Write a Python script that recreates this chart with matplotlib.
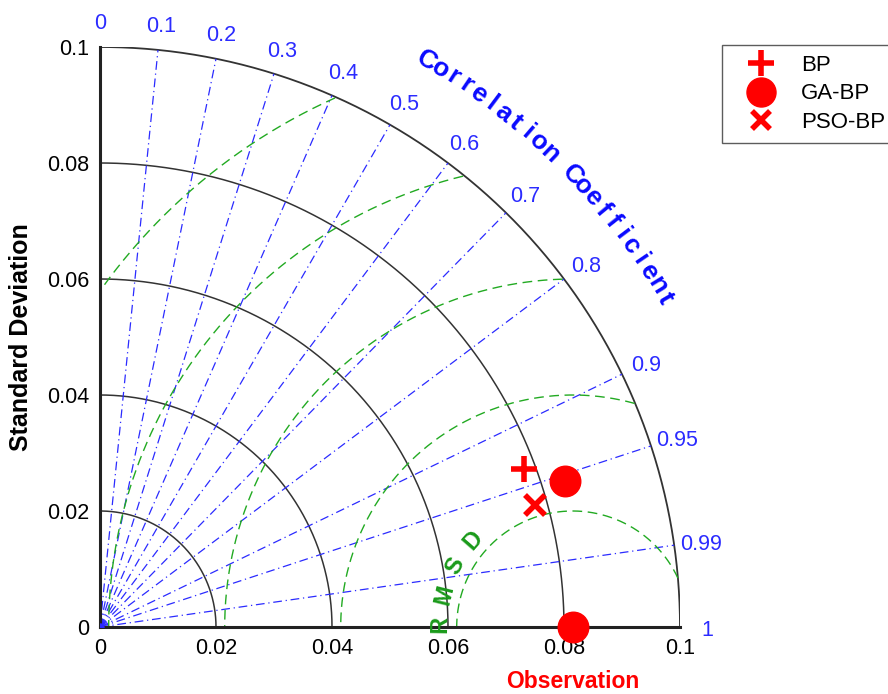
import numpy as np
import matplotlib
matplotlib.use('Agg')
import matplotlib.pyplot as plt

plt.rcParams['font.family'] = ['Liberation Sans', 'DejaVu Sans']

# data
names = ['BP', 'GA-BP', 'PSO-BP']
stds = [0.0780, 0.0841, 0.0779]
corrs = [0.937, 0.954, 0.963]
markers = ['+', 'o', 'x']
obs_std = 0.0815

std_ticks = [0, 0.02, 0.04, 0.06, 0.08, 0.1]
std_arcs = [0.02, 0.04, 0.06, 0.08, 0.1]
corr_ticks = [0.1, 0.2, 0.3, 0.4, 0.5, 0.6, 0.7, 0.8, 0.9, 0.95, 0.99]
corr_labels = ['0', '0.1', '0.2', '0.3', '0.4', '0.5', '0.6', '0.7', '0.8', '0.9', '0.95', '0.99', '1']
rmsd_levels = [0.02, 0.04, 0.06, 0.08, 0.1]

rmax = 0.1
blue = '#2b2bff'

fig = plt.figure(figsize=(8.88, 6.94), dpi=100)
ax = fig.add_axes([100 / 888, 67 / 694, 580 / 888, 580 / 694])
ax.set_xlim(0, rmax)
ax.set_ylim(0, rmax)
for s in ['top', 'right']:
    ax.spines[s].set_visible(False)
for s in ['left', 'bottom']:
    ax.spines[s].set_linewidth(2.2)
    ax.spines[s].set_color('#222222')
ax.set_xticks(std_ticks)
ax.set_yticks(std_ticks)
ax.set_xticklabels(['0', '0.02', '0.04', '0.06', '0.08', '0.1'])
ax.set_yticklabels(['0', '0.02', '0.04', '0.06', '0.08', '0.1'])
ax.tick_params(length=0, labelsize=15.5, pad=8)

# standard deviation arcs
th = np.linspace(0, np.pi / 2, 300)
for r in std_arcs:
    ax.plot(r * np.cos(th), r * np.sin(th), color='#333333', lw=1.1 if r < rmax else 1.3)

# correlation rays
for c in corr_ticks:
    a = np.arccos(c)
    ax.plot([0, rmax * np.cos(a)], [0, rmax * np.sin(a)], color=blue, lw=0.9,
            ls=(0, (7, 3, 1, 3)))
ax.plot(0, 0, 'o', color=blue, ms=5, zorder=4)

# correlation labels
all_corr = [0.0] + corr_ticks + [1.0]
for c, lab in zip(all_corr, corr_labels):
    a = np.arccos(c)
    ax.text(0.1047 * np.cos(a), 0.1047 * np.sin(a) - 0.0006, lab, color=blue, fontsize=15.5,
            ha='center', va='center', clip_on=False)

# RMSD circles centred on observation
ph = np.linspace(0, np.pi, 600)
for r in rmsd_levels:
    x = obs_std + r * np.cos(ph)
    y = r * np.sin(ph)
    inside = x ** 2 + y ** 2 <= rmax ** 2
    x = np.where(inside, x, np.nan)
    y = np.where(inside, y, np.nan)
    ax.plot(x, y, color='#22aa22', lw=1.0, ls=(0, (7, 4)))

# RMSD label along the 0.02 circle
for ch, ang in zip('RMSD', [179, 166, 152.5, 139]):
    t = np.radians(ang)
    ax.text(obs_std + 0.0228 * np.cos(t), 0.0228 * np.sin(t), ch, color='#1a9a1a',
            fontsize=17, fontweight='bold', rotation=ang - 90,
            ha='center', va='center', rotation_mode='anchor')

# curved "Correlation Coefficient"
title = 'Correlation Coefficient'
angs = np.linspace(60, 30.2, len(title))
for ch, ang in zip(title, angs):
    t = np.radians(ang)
    ax.text(0.1127 * np.cos(t), 0.1127 * np.sin(t), ch, color='#0a0aff', fontsize=19,
            fontweight='bold', rotation=ang - 90, ha='center', va='center',
            rotation_mode='anchor', clip_on=False)

# model points
handles = []
for n, s, c, m in zip(names, stds, corrs, markers):
    a = np.arccos(c)
    if m == 'o':
        h, = ax.plot(s * np.cos(a), s * np.sin(a), m, color='red', ms=22, clip_on=False,
                     zorder=5, label=n)
    else:
        h, = ax.plot(s * np.cos(a), s * np.sin(a), m, color='red',
                     ms=19 if m == '+' else 14, mew=4, clip_on=False, zorder=5, label=n)
    handles.append(h)

ax.plot(obs_std, 0, 'o', color='red', ms=22, clip_on=False, zorder=5)

ax.set_ylabel('Standard Deviation', fontsize=18, fontweight='bold', labelpad=10)
ax.set_xlabel('Observation', fontsize=16.5, fontweight='bold', color='red', labelpad=8)
ax.xaxis.label.set_x(obs_std / rmax)

leg = fig.legend(handles=handles, loc='upper left', bbox_to_anchor=(722 / 888, 1 - 45 / 694),
                 fontsize=16, frameon=True, fancybox=False, edgecolor='#333333',
                 markerscale=0.95, handlelength=2.6, handletextpad=0.5, borderpad=0.45,
                 labelspacing=0.33, borderaxespad=0)
leg.get_frame().set_linewidth(1.0)

fig.savefig('out.png', dpi=100)
